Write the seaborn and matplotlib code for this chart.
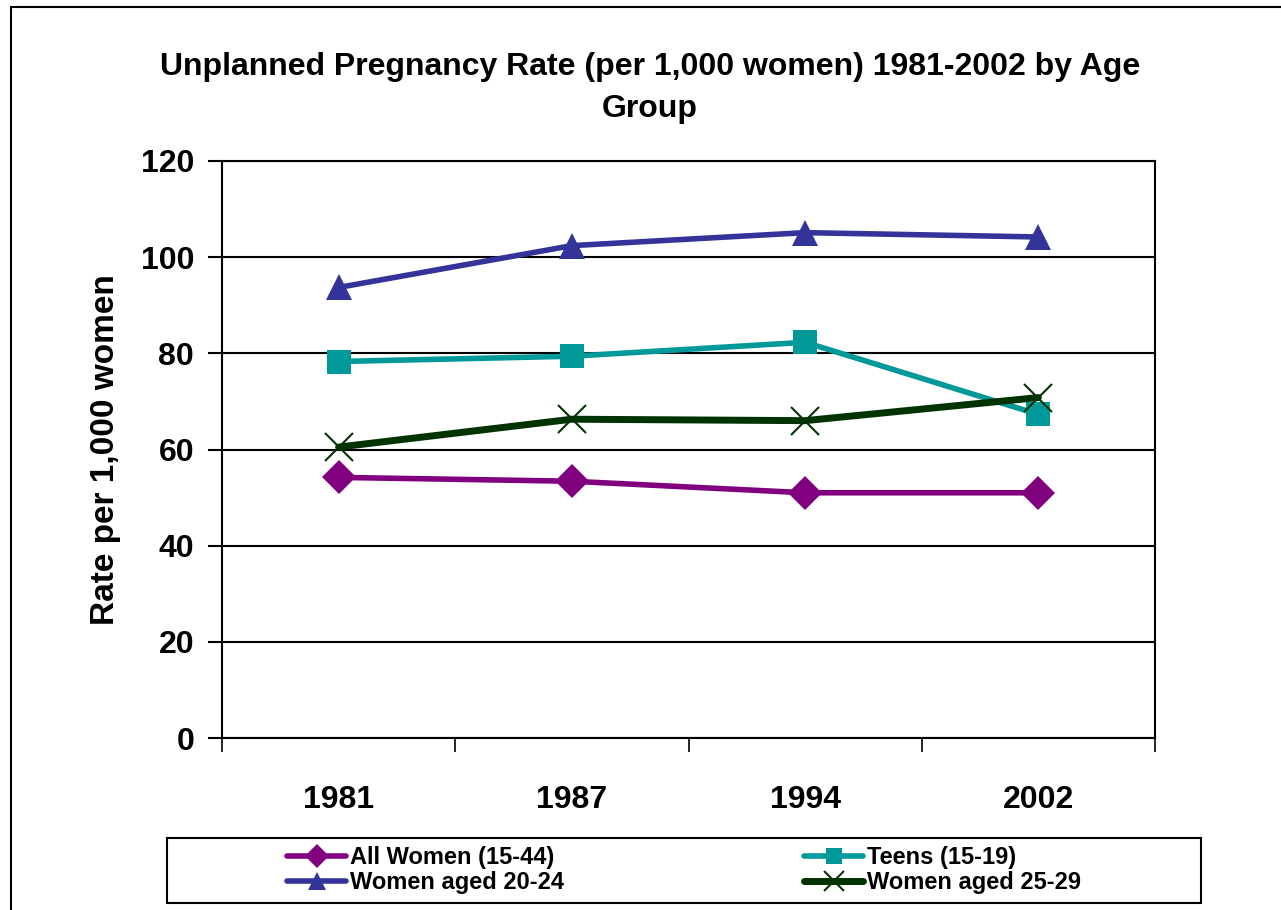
import numpy as np
import pandas as pd
import matplotlib
matplotlib.use("Agg")
import matplotlib.pyplot as plt
import seaborn as sns
from matplotlib.patches import Rectangle
from matplotlib.ticker import FixedLocator

years = ["1981", "1987", "1994", "2002"]
all_women = [54.2, 53.4, 51.0, 51.0]
teens = [78.3, 79.4, 82.3, 67.3]
women_20_24 = [93.7, 102.4, 105.1, 104.2]
women_25_29 = [60.5, 66.3, 66.0, 70.8]

series_names = ["All Women (15-44)", "Teens (15-19)", "Women aged 20-24", "Women aged 25-29"]
series_values = [all_women, teens, women_20_24, women_25_29]
colors = ["#800080", "#009999", "#333399", "#003300"]
markers = ["D", "s", "^", "x"]

rows = []
for name, vals in zip(series_names, series_values):
    for i, (yr, v) in enumerate(zip(years, vals)):
        rows.append({"pos": i, "year": yr, "rate": v, "group": name})
df = pd.DataFrame(rows)

sns.set_style("white")
plt.rcParams["font.family"] = ["Liberation Sans", "DejaVu Sans"]
plt.rcParams["font.weight"] = "bold"
plt.rcParams["text.color"] = "black"
plt.rcParams["axes.labelcolor"] = "black"
plt.rcParams["xtick.color"] = "black"
plt.rcParams["ytick.color"] = "black"

fig = plt.figure(figsize=(12.81, 9.10), dpi=100)
ax = fig.add_axes([222 / 1281, 1 - 738 / 910, (1155 - 222) / 1281, (738 - 161) / 910])

# outer chart frame (cropped at right and bottom)
fig.patches.append(Rectangle((11 / 1281, -0.1), 1.2, 1 - 7 / 910 + 0.1,
                             transform=fig.transFigure, fill=False,
                             edgecolor="black", linewidth=1.5, zorder=0))
# legend box
fig.patches.append(Rectangle((167 / 1281, 1 - 903 / 910), (1201 - 167) / 1281, 65 / 910,
                             transform=fig.transFigure, fill=False,
                             edgecolor="black", linewidth=1.5, zorder=0))

lw = {"All Women (15-44)": 4, "Teens (15-19)": 4, "Women aged 20-24": 4, "Women aged 25-29": 5}
msz = {"D": 17, "s": 17, "^": 19, "x": 20}
for name, col, mk in zip(series_names, colors, markers):
    sub = df[df["group"] == name]
    sns.lineplot(data=sub, x="pos", y="rate", color=col, marker=mk,
                 markersize=msz[mk], linewidth=lw[name], markeredgecolor=col,
                 markeredgewidth=1.5 if mk == "x" else 0, label=name, ax=ax,
                 zorder=3)

ax.set_xlim(-0.5, 3.5)
ax.set_ylim(0, 120)
ax.set_yticks(np.arange(0, 121, 20))
ax.set_xticks(range(len(years)))
ax.set_xticklabels(years)
ax.xaxis.set_minor_locator(FixedLocator([-0.5, 0.5, 1.5, 2.5, 3.5]))
ax.tick_params(axis="x", which="both", bottom=True)
ax.tick_params(axis="y", which="both", left=True)
ax.tick_params(axis="x", which="major", length=0, pad=34, labelsize=23)
ax.tick_params(axis="x", which="minor", length=10, width=1.2, direction="out", color="black")
ax.tick_params(axis="y", which="major", length=10, width=1.5, direction="out",
               color="black", labelsize=23, pad=10)
for lab in ax.get_xticklabels() + ax.get_yticklabels():
    lab.set_fontweight("bold")
ax.yaxis.grid(True, color="black", linewidth=1.5)
ax.set_axisbelow(True)
for s in ax.spines.values():
    s.set_color("black")
    s.set_linewidth(1.5)

ax.set_xlabel("")
ax.set_ylabel("Rate per 1,000 women", fontsize=24, fontweight="bold", labelpad=14)

fig.text(650 / 1281, 1 - 88 / 910,
         "Unplanned Pregnancy Rate (per 1,000 women) 1981-2002 by Age\nGroup",
         ha="center", va="center", fontsize=23, fontweight="bold", linespacing=1.5)

handles, labels = ax.get_legend_handles_labels()
ax.legend_.remove()
order = [0, 2, 1, 3]
leg = fig.legend([handles[i] for i in order], [labels[i] for i in order], ncol=2,
                 loc="center", bbox_to_anchor=(684 / 1281, 1 - 870 / 910),
                 frameon=False, prop={"size": 17, "weight": "bold"},
                 handlelength=2.5, handletextpad=0.15, columnspacing=10.2,
                 labelspacing=0.1, markerscale=0.7)

fig.savefig("out.png", dpi=100)
